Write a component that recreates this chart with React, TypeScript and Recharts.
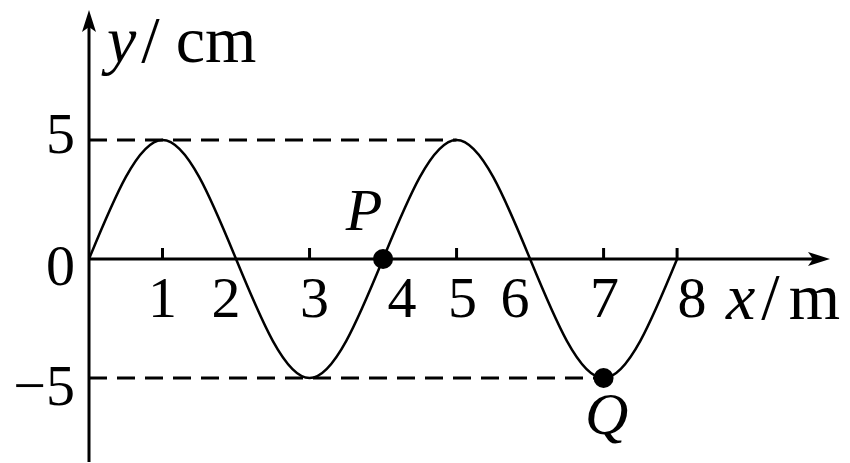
import {
  ComposedChart,
  Line,
  Scatter,
  XAxis,
  YAxis,
  ReferenceLine,
  ReferenceDot,
} from "recharts";

// wave y(x): peaks/troughs at odd x, zeros at even x
const waveX = [0, 1, 2, 3, 4, 5, 6, 7, 8];
const waveY = [0, 5, 0, -5, 0, 5, 0, -5, 0];

const xTickValues = [1, 2, 3, 4, 5, 6, 7, 8];
const xTickMarks = [1, 3, 5, 7, 8];
const yTickValues = [-5, 0, 5];

const pointNames = ["P", "Q"];
const pointX = [4, 7];
const pointY = [0, -5];

// dashed guide lines: level and where they stop
const guideLevels = [5, -5];
const guideEnds = [5, 7];

const X_MAX = 10.08;
const Y_MIN = -8.53;
const Y_MAX = 10.46;

const FONT = "'Liberation Serif', 'Times New Roman', serif";
const FS = 58;
const UNIT_FS = 66;

const waveData = waveX.map((x, i) => ({ x, y: waveY[i] }));
const tickData = xTickValues.map((v) => ({ x: v, y: 0 }));
const pointData = pointNames.map((name, i) => ({ name, x: pointX[i], y: pointY[i] }));

// label nudges so the digits dodge the curve like in the original
const xLabelDx: Record<number, number> = { 1: 0, 2: -10, 3: 5, 4: 19, 5: 6, 6: -15, 7: 1, 8: 15 };
const yLabelDy: Record<number, number> = { 5: 13, 0: 26, "-5": 27 };

const YTick = (props: any) => {
  const { x, y, payload } = props;
  const v = payload.value;
  return (
    <text x={x - 6} y={y + (yLabelDy[v] ?? 0)} textAnchor="end" fontFamily={FONT} fontSize={FS} fill="#000">
      {v < 0 ? `\u2212${-v}` : v}
    </text>
  );
};

const TickShape = (props: any) => {
  const { cx, cy, payload } = props;
  return (
    <g>
      {xTickMarks.includes(payload.x) && (
        <line x1={cx} y1={cy - 11} x2={cx} y2={cy} stroke="#000" strokeWidth={3} />
      )}
      <text x={cx + xLabelDx[payload.x]} y={cy + 58} textAnchor="middle" fontFamily={FONT} fontSize={FS} fill="#000">
        {payload.x}
      </text>
    </g>
  );
};

const PointShape = (props: any) => {
  const { cx, cy, payload } = props;
  const isP = payload.name === "P";
  return (
    <g>
      <circle cx={cx} cy={cy} r={10} fill="#000" />
      <text
        x={cx + (isP ? -19 : 3)}
        y={cy + (isP ? -29 : 56)}
        textAnchor="middle"
        fontFamily={FONT}
        fontStyle="italic"
        fontSize={60}
        fill="#000"
      >
        {payload.name}
      </text>
    </g>
  );
};

const XArrow = (props: any) => {
  const { cx, cy } = props;
  return (
    <g>
      <polygon points={`${cx},${cy} ${cx - 22},${cy - 7} ${cx - 17},${cy} ${cx - 22},${cy + 7}`} fill="#000" />
      <text x={cx - 104} y={cy + 60} fontFamily={FONT} fontSize={UNIT_FS} fill="#000">
        <tspan fontStyle="italic">x</tspan>
        <tspan dx={6}>/</tspan>
        <tspan dx={9}>m</tspan>
      </text>
    </g>
  );
};

const YArrow = (props: any) => {
  const { cx, cy } = props;
  return (
    <g>
      <polygon points={`${cx},${cy} ${cx - 7},${cy + 22} ${cx},${cy + 17} ${cx + 7},${cy + 22}`} fill="#000" />
      <text x={cx + 18} y={cy + 52} fontFamily={FONT} fontSize={UNIT_FS} fill="#000">
        <tspan fontStyle="italic">y</tspan>
        <tspan dx={5}>/</tspan>
        <tspan dx={16}>cm</tspan>
      </text>
    </g>
  );
};

export default function App() {
  return (
    <div style={{ position: "absolute", left: 0, top: 0, background: "#fff" }}>
      <ComposedChart width={850} height={463} margin={{ top: 10, right: 20, bottom: 1, left: 0 }}>
        <XAxis type="number" dataKey="x" domain={[0, X_MAX]} hide allowDataOverflow />
        <YAxis
          type="number"
          dataKey="y"
          domain={[Y_MIN, Y_MAX]}
          ticks={yTickValues}
          width={89}
          axisLine={false}
          tickLine={false}
          tick={<YTick />}
          allowDataOverflow
        />

        {guideLevels.map((lv, i) => (
          <ReferenceLine
            key={lv}
            segment={[{ x: 0, y: lv }, { x: guideEnds[i], y: lv }]}
            stroke="#000"
            strokeWidth={3}
            strokeDasharray="18 10"
          />
        ))}

        <ReferenceLine segment={[{ x: 0, y: 0 }, { x: X_MAX - 0.2, y: 0 }]} stroke="#000" strokeWidth={3} />
        <ReferenceLine segment={[{ x: 0, y: Y_MIN }, { x: 0, y: Y_MAX - 0.6 }]} stroke="#000" strokeWidth={3} />

        <Line
          data={waveData}
          dataKey="y"
          type="natural"
          stroke="#000"
          strokeWidth={2.5}
          dot={false}
          activeDot={false}
          isAnimationActive={false}
        />

        <Scatter data={tickData} shape={<TickShape />} isAnimationActive={false} />
        <Scatter data={pointData} shape={<PointShape />} isAnimationActive={false} />

        <ReferenceDot x={X_MAX} y={0} shape={<XArrow />} ifOverflow="visible" />
        <ReferenceDot x={0} y={Y_MAX} shape={<YArrow />} ifOverflow="visible" />
      </ComposedChart>
    </div>
  );
}
